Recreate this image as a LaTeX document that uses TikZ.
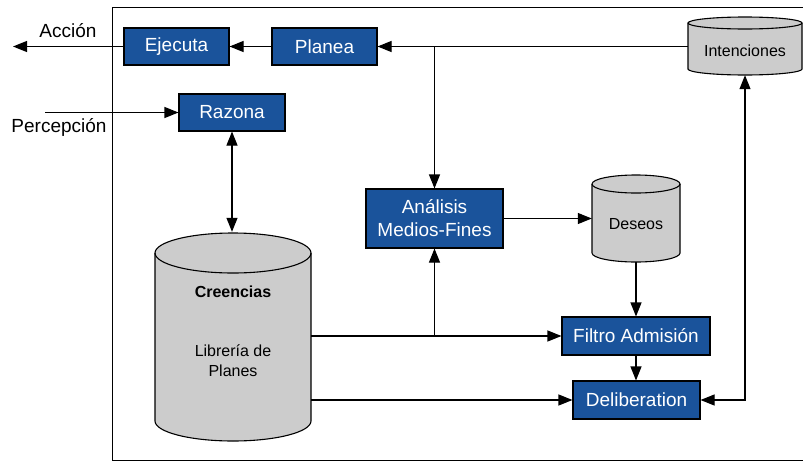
\documentclass[tikz,border=0pt]{standalone}
\usepackage{fontspec}
\setmainfont{Liberation Sans}
\usetikzlibrary{arrows.meta,calc}
\definecolor{boxblue}{RGB}{26,83,155}
\definecolor{drumgray}{RGB}{204,204,204}

% cylinder (data store): left, right, top-ellipse centre, bottom-ellipse centre, y radius
\newcommand\dbdrum[5]{%
  \pgfmathsetmacro\drumrx{(#2-#1)/2}%
  \path[drum] (#1,#3) -- (#1,#4)
    arc[start angle=180,end angle=360,x radius=\drumrx pt,y radius=#5pt]
    -- (#2,#3)
    arc[start angle=0,end angle=180,x radius=\drumrx pt,y radius=#5pt] -- cycle;
  \draw[drum,fill=none] (#1,#3)
    arc[start angle=180,end angle=360,x radius=\drumrx pt,y radius=#5pt];
}

\begin{document}
\begin{tikzpicture}[x=1pt,y=-1pt,
  proc/.style={draw=black, fill=boxblue, text=white, line width=1.1pt,
    inner sep=0pt, font=\fontsize{19}{23}\selectfont, align=center},
  anchorbox/.style={inner sep=0pt, draw=none},
  drum/.style={draw=black, fill=drumgray, line width=1.1pt},
  drumtext/.style={font=\fontsize{16}{20}\selectfont, align=center},
  outer/.style={font=\fontsize{19}{23}\selectfont},
  link/.style={line width=1.1pt, -{Triangle[length=14pt,width=11pt]}},
  biline/.style={line width=1.1pt,
    {Triangle[length=14pt,width=11pt]}-{Triangle[length=14pt,width=11pt]}}]
\useasboundingbox (0,0) rectangle (803,461);

% agent frame
\draw[line width=1pt] (112,7) rectangle (812,460);

% data stores
\dbdrum{155}{311}{253}{421}{20}
\dbdrum{592}{680}{184}{253}{9}
\dbdrum{688}{802}{23}{69}{6}
\node[anchorbox, minimum width=156pt, minimum height=209pt] (creencias) at (233,336.5) {};
\node[anchorbox, minimum width=88pt, minimum height=87pt] (deseos) at (636,218.5) {};
\node[anchorbox, minimum width=114pt, minimum height=58pt] (intenciones) at (745,46) {};
\node[drumtext, font=\fontsize{16}{20}\selectfont\bfseries] (creetitle) at (233,292) {Creencias};
\node[drumtext] (libreria) at (233,361) {Librería de\\Planes};
\node[drumtext] (deseostext) at (636,224.5) {Deseos};
\node[drumtext] (intentext) at (745,51) {Intenciones};

% processes
\node[proc, minimum width=105pt, minimum height=37pt] (ejecuta) at (176.5,46.5) {Ejecuta};
\node[proc, minimum width=105pt, minimum height=37pt] (planea) at (324.5,46.5) {Planea};
\node[proc, minimum width=106pt, minimum height=37pt] (razona) at (232,112.5) {Razona};
\node[proc, minimum width=137pt, minimum height=59pt] (analisis) at (434.5,218.5) {Análisis\\Medios-Fines};
\node[proc, minimum width=148pt, minimum height=38pt] (filtro) at (636,336) {Filtro Admisión};
\node[proc, minimum width=127pt, minimum height=38pt] (delib) at (636.5,400) {Deliberation};

% inputs and outputs of the agent
\coordinate (actout) at (13,46.5);
\coordinate (percin) at (45,112.5);
\draw[link] (ejecuta.west) -- (actout);
\node[outer, anchor=base] (accion) at (68,37.5) {Acción};
\draw[link] (percin) -- (razona.west);
\node[outer, anchor=base] (percepcion) at (59,132.5) {Percepción};

% connectors
\draw[link] (planea.west) -- (ejecuta.east);
\draw[link] (intenciones.west |- planea.east) -- (planea.east);
\coordinate (split) at (analisis.north |- planea.east);
\draw[link] (split) -- (analisis.north);
\draw[biline] (razona.south) -- (razona.south |- creencias.north);
\coordinate (crefiltro) at (creencias.east |- filtro.west);
\draw[link] (crefiltro) -- (filtro.west);
\coordinate (tap) at (analisis.south |- filtro.west);
\draw[link] (tap) -- (analisis.south);
\draw[link] (creencias.east |- delib.west) -- (delib.west);
\draw[link] (analisis.east) -- (deseos.west |- analisis.east);
\draw[link] (deseos.south) -- (filtro.north);
\draw[link] (filtro.south) -- (filtro.south |- delib.north);
\draw[biline] (delib.east) -| (intenciones.south);
\end{tikzpicture}
\end{document}
